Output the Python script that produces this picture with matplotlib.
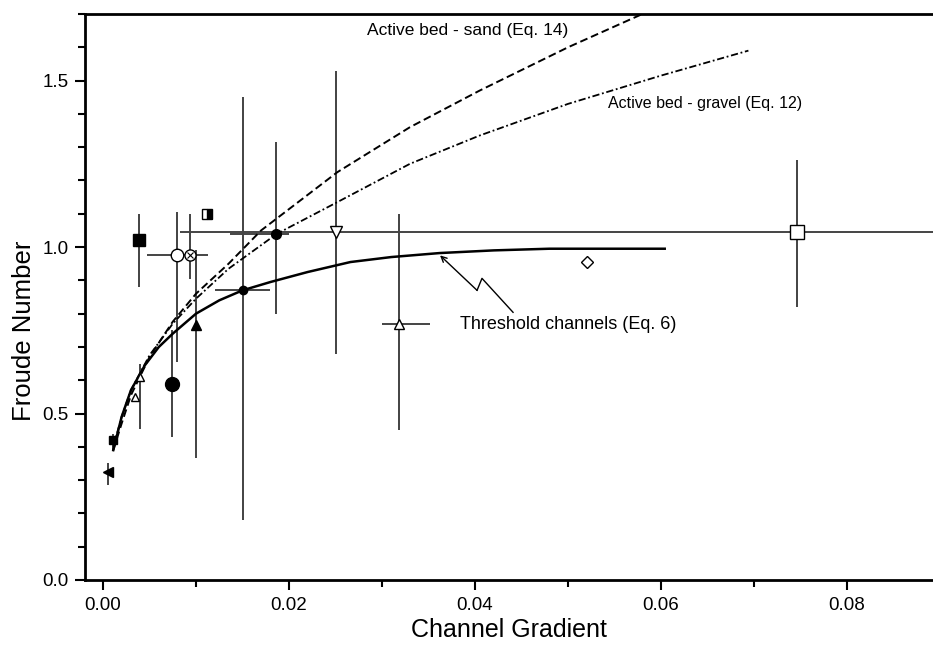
import numpy as np
import matplotlib
matplotlib.use("Agg")
import matplotlib.pyplot as plt
from matplotlib.ticker import MultipleLocator

plt.rcParams['font.family'] = ['Liberation Sans', 'DejaVu Sans']

# Curves
thr_slope = [0.0011, 0.002, 0.003, 0.0045, 0.006, 0.0075, 0.010, 0.0125, 0.015,
             0.018, 0.022, 0.0266, 0.031, 0.0362, 0.042, 0.048, 0.0604]
thr_froude = [0.39, 0.49, 0.57, 0.645, 0.70, 0.74, 0.80, 0.84, 0.87,
              0.895, 0.925, 0.955, 0.97, 0.982, 0.99, 0.995, 0.995]

sand_slope = [0.0011, 0.002, 0.003, 0.005, 0.0075, 0.010, 0.0135, 0.017,
              0.0252, 0.033, 0.0405, 0.050, 0.058]
sand_froude = [0.39, 0.47, 0.555, 0.67, 0.776, 0.86, 0.95, 1.05,
               1.225, 1.36, 1.47, 1.60, 1.70]

gravel_slope = [0.0011, 0.002, 0.003, 0.005, 0.0075, 0.010, 0.0135, 0.0187,
                0.0252, 0.033, 0.0405, 0.050, 0.060, 0.0694]
gravel_froude = [0.40, 0.49, 0.57, 0.675, 0.77, 0.845, 0.935, 1.04,
                 1.135, 1.25, 1.335, 1.43, 1.515, 1.59]

# Field data points (nan = no error bar)
nan = np.nan
slope = [0.0005, 0.0011, 0.0040, 0.0034, 0.0039, 0.0074, 0.0080, 0.0094,
         0.0100, 0.0112, 0.0151, 0.0186, 0.0250, 0.0318, 0.0520, 0.0746]
froude = [0.325, 0.42, 0.61, 0.55, 1.02, 0.59, 0.975, 0.975,
          0.765, 1.10, 0.87, 1.04, 1.045, 0.768, 0.955, 1.045]
froude_lo = [0.285, 0.39, 0.455, nan, 0.88, 0.43, 0.655, 0.905,
             0.366, nan, 0.18, 0.80, 0.68, 0.45, nan, 0.82]
froude_hi = [0.35, 0.44, 0.65, nan, 1.10, 0.75, 1.105, 1.10,
             0.99, nan, 1.45, 1.315, 1.53, 1.10, nan, 1.26]
slope_lo = [nan, nan, nan, nan, nan, nan, 0.0047, nan,
            nan, nan, 0.012, 0.0137, nan, 0.030, nan, 0.0083]
slope_hi = [nan, nan, nan, nan, nan, nan, 0.0113, nan,
            nan, nan, 0.018, 0.020, nan, 0.0352, nan, 0.141]

# marker, face colour, size
styles = [('<', 'k', 7), ('s', 'k', 6), ('^', 'w', 6), ('^', 'w', 6),
          ('s', 'k', 9), ('o', 'k', 10), ('o', 'w', 9), ('o', 'w', 8),
          ('^', 'k', 7), ('s', 'half', 7), ('o', 'k', 6), ('o', 'k', 7),
          ('v', 'w', 8), ('^', 'w', 7), ('D', 'w', 6), ('s', 'w', 10)]

fig = plt.figure(figsize=(9.33, 6.48), dpi=100)
ax = fig.add_axes([85 / 933, 68 / 648, 848 / 933, 566 / 648])

# error bars
for i in range(len(slope)):
    if not np.isnan(froude_lo[i]):
        ax.vlines(slope[i], froude_lo[i], froude_hi[i], color='#222222', lw=1.2, zorder=2)
    if not np.isnan(slope_lo[i]):
        ax.hlines(froude[i], slope_lo[i], slope_hi[i], color='#444444', lw=1.4, zorder=2)

ax.plot(thr_slope, thr_froude, '-', color='k', lw=1.8, zorder=3)
ax.plot(sand_slope, sand_froude, '--', color='k', lw=1.4, dashes=(4, 2), zorder=3)
ax.plot(gravel_slope, gravel_froude, '-.', color='k', lw=1.3, dashes=(4, 1.5, 1, 1.5), zorder=3)

for i, (m, fc, ms) in enumerate(styles):
    if fc == 'half':
        ax.plot(slope[i], froude[i], marker=m, ms=ms, mfc='k', mec='k', mew=1.0,
                fillstyle='right', markerfacecoloralt='w', ls='none', zorder=4)
    else:
        ax.plot(slope[i], froude[i], marker=m, ms=ms, mfc=fc, mec='k', mew=1.0,
                ls='none', zorder=4)
# crossed circle
ax.plot(slope[7], froude[7], marker='x', ms=5, mec='k', mew=0.8, ls='none', zorder=5)

# labels on curves
ax.text(0.0284, 1.65, 'Active bed - sand (Eq. 14)', fontsize=12.5, va='center')
ax.text(0.0543, 1.431, 'Active bed - gravel (Eq. 12)', fontsize=11.5, va='center')
ax.text(0.0384, 0.768, 'Threshold channels (Eq. 6)', fontsize=13, va='center')
zx = [0.04409, 0.04075, 0.04022]
zy = [0.804, 0.906, 0.870]
ax.plot(zx, zy, color='k', lw=1.0)
ax.annotate('', xy=(0.03624, 0.975), xytext=(zx[-1], zy[-1]),
            arrowprops=dict(arrowstyle='->', color='k', lw=1.0, shrinkA=0, shrinkB=0))

ax.set_xlim(-0.00194, 0.08925)
ax.set_ylim(0, 1.7)
ax.xaxis.set_major_locator(MultipleLocator(0.02))
ax.xaxis.set_minor_locator(MultipleLocator(0.01))
ax.yaxis.set_major_locator(MultipleLocator(0.5))
ax.yaxis.set_minor_locator(MultipleLocator(0.1))
ax.xaxis.set_major_formatter(plt.FormatStrFormatter('%.2f'))
ax.yaxis.set_major_formatter(plt.FormatStrFormatter('%.1f'))
ax.tick_params(which='major', direction='out', length=7, width=1.5, labelsize=13.5, pad=5)
ax.tick_params(which='minor', direction='out', length=5, width=1.5)
ax.spines['right'].set_visible(False)
for s in ['left', 'bottom', 'top']:
    ax.spines[s].set_linewidth(2)
ax.set_xlabel('Channel Gradient', fontsize=18, labelpad=3)
ax.set_ylabel('Froude Number', fontsize=18.5)
ax.yaxis.set_label_coords(-0.058, 0.44)

fig.savefig('out.png', dpi=100)
